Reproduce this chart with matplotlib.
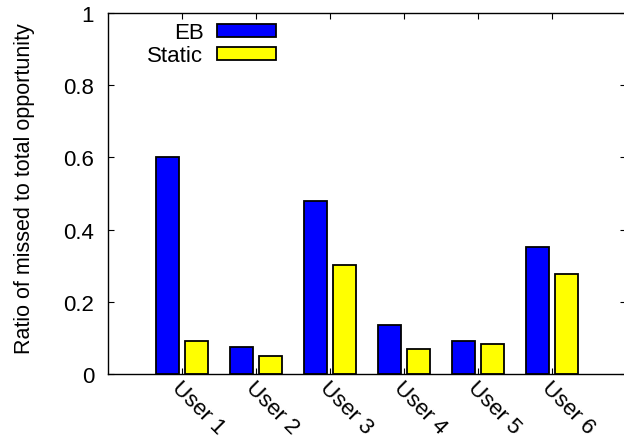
import numpy as np
import matplotlib
matplotlib.use("Agg")
import matplotlib.pyplot as plt
import matplotlib.transforms as mtransforms
from matplotlib.patches import Patch

# Missed-opportunity ratio per user for both schemes
users = ["User 1", "User 2", "User 3", "User 4", "User 5", "User 6"]
eb = [0.60, 0.076, 0.478, 0.137, 0.091, 0.353]
static = [0.091, 0.050, 0.301, 0.070, 0.082, 0.276]

plt.rcParams["font.family"] = ["Liberation Sans", "DejaVu Sans"]
plt.rcParams["font.size"] = 16

fig = plt.figure(figsize=(6.24, 4.39), dpi=100)
ax = fig.add_axes([108 / 624, 64 / 439, 518 / 624, 361 / 439])

x = np.arange(len(users))
w = 0.31
ax.bar(x - 0.2, eb, w, color="#0000ff", edgecolor="black", linewidth=1.3, label="EB")
ax.bar(x + 0.2, static, w, color="#ffff00", edgecolor="black", linewidth=1.3, label="Static")

ax.set_xlim(-1, 6)
ax.set_ylim(0, 1)
ax.set_yticks([0, 0.2, 0.4, 0.6, 0.8, 1])
ax.set_yticklabels(["0", "0.2", "0.4", "0.6", "0.8", "1"])
ax.set_xticks(x)
ax.set_xticklabels(users, rotation=-45, ha="left", va="top", rotation_mode="anchor")
shift = mtransforms.ScaledTranslation(-3 / 100, 0, fig.dpi_scale_trans)
for lbl in ax.get_xticklabels():
    lbl.set_transform(lbl.get_transform() + shift)

ax.tick_params(direction="in", length=4.5, width=0.8, top=True, right=True)
ax.tick_params(axis="x", pad=2)
ax.tick_params(axis="y", pad=10)
for s in ax.spines.values():
    s.set_linewidth(1.0)

ax.set_ylabel("Ratio of missed to total opportunity", fontsize=15.5)
ax.yaxis.set_label_coords(-0.141, 0.517)

handles = [Patch(facecolor="#0000ff", edgecolor="black", linewidth=1.3, label="EB"),
           Patch(facecolor="#ffff00", edgecolor="black", linewidth=1.3, label="Static")]
ax.legend(handles=handles, loc="upper right", bbox_to_anchor=(276 / 624, 1 - 23 / 439),
          bbox_transform=fig.transFigure, frameon=False, markerfirst=False,
          handlelength=2.66, handleheight=0.51, handletextpad=0.6, labelspacing=0.1,
          borderpad=0, borderaxespad=0)

fig.savefig("out.png", dpi=100)
